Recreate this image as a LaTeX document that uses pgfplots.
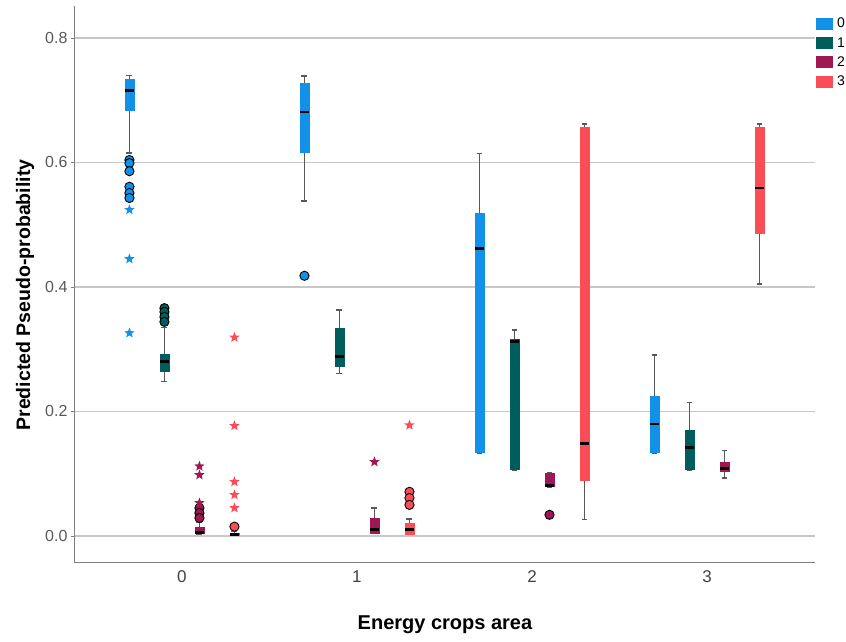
\documentclass[border=0pt]{standalone}
\usepackage{fontspec}
\setmainfont{Liberation Sans}
\usepackage{pgfplots}
\pgfplotsset{compat=1.18}
\usepgfplotslibrary{statistics}

\definecolor{c0}{HTML}{1192E8}
\definecolor{c1}{HTML}{005D5D}
\definecolor{c2}{HTML}{9F1853}
\definecolor{c3}{HTML}{FA4D56}

% filled five-point star for extreme values
\pgfdeclareplotmark{fstar}{%
  \pgfpathmoveto{\pgfqpoint{0pt}{\pgfplotmarksize}}%
  \pgfpathlineto{\pgfqpoint{-0.247\pgfplotmarksize}{0.340\pgfplotmarksize}}%
  \pgfpathlineto{\pgfqpoint{-0.951\pgfplotmarksize}{0.309\pgfplotmarksize}}%
  \pgfpathlineto{\pgfqpoint{-0.399\pgfplotmarksize}{-0.130\pgfplotmarksize}}%
  \pgfpathlineto{\pgfqpoint{-0.588\pgfplotmarksize}{-0.809\pgfplotmarksize}}%
  \pgfpathlineto{\pgfqpoint{0pt}{-0.42\pgfplotmarksize}}%
  \pgfpathlineto{\pgfqpoint{0.588\pgfplotmarksize}{-0.809\pgfplotmarksize}}%
  \pgfpathlineto{\pgfqpoint{0.399\pgfplotmarksize}{-0.130\pgfplotmarksize}}%
  \pgfpathlineto{\pgfqpoint{0.951\pgfplotmarksize}{0.309\pgfplotmarksize}}%
  \pgfpathlineto{\pgfqpoint{0.247\pgfplotmarksize}{0.340\pgfplotmarksize}}%
  \pgfpathclose
  \pgfusepathqfill
}

\begin{document}
\begin{tikzpicture}
\begin{axis}[
  scale only axis,
  width=740pt, height=557pt,
  xmin=-0.611, xmax=3.617,
  ymin=-0.0434, ymax=0.8514,
  axis x line*=bottom, axis y line*=left,
  axis line style={draw=black!50, line width=1pt},
  xtick={0,1,2,3}, xticklabels={0,1,2,3},
  ytick={0,0.2,0.4,0.6,0.8},
  ymajorgrids,
  grid style={draw=black!22, line width=1.3pt},
  x tick style={draw=none},
  y tick style={draw=black!50, line width=0.8pt},
  tick align=outside, major tick length=4pt,
  xticklabel style={font=\fontsize{17}{20}\selectfont, text=black!75},
  yticklabel style={font=\fontsize{16}{19}\selectfont, text=black!65,
    /pgf/number format/assume math mode=true,
    /pgf/number format/fixed, /pgf/number format/fixed zerofill,
    /pgf/number format/precision=1},
  xlabel={Energy crops area},
  ylabel={Predicted Pseudo-probability},
  xlabel style={font=\bfseries\fontsize{20}{24}\selectfont,
    at={(axis description cs:0.5,-0.111)}, anchor=center},
  ylabel style={font=\bfseries\fontsize{19.5}{23}\selectfont,
    at={(axis description cs:-0.0676,0.481)}, anchor=center},
  boxplot/draw direction=y,
  boxplot/box extend=0.05,
  boxplot/whisker extend=0.034,
  boxplot/every whisker/.style={draw=black!65, line width=1.4pt, fill=none},
  boxplot/every median/.style={draw=black, line width=2.8pt},
  legend style={at={(rel axis cs:1,1)}, anchor=north west, xshift=1pt, yshift=-11pt,
    draw=none, fill=none, inner sep=0pt, row sep=6pt,
    font=\fontsize{14}{16}\selectfont, nodes={inner sep=1pt},
    /tikz/every even column/.append style={column sep=2pt}},
  legend cell align=left,
  legend image code/.code={\path[draw=none, #1] (0pt,-6pt) rectangle (17pt,6pt);},
]
\coordinate (sw) at (rel axis cs:0,0);

\addlegendimage{fill=c0}\addlegendentry{\hspace{3pt}0}
\addlegendimage{fill=c1}\addlegendentry{\hspace{3pt}1}
\addlegendimage{fill=c2}\addlegendentry{\hspace{3pt}2}
\addlegendimage{fill=c3}\addlegendentry{\hspace{3pt}3}

% category 0
\addplot[forget plot, fill=c0, draw=c0, boxplot prepared={draw position=-0.3,
  lower whisker=0.615, lower quartile=0.684, median=0.716, upper quartile=0.733, upper whisker=0.740}] coordinates {};
\addplot[forget plot, fill=c1, draw=c1, boxplot prepared={draw position=-0.1,
  lower whisker=0.248, lower quartile=0.265, median=0.280, upper quartile=0.292, upper whisker=0.335}] coordinates {};
\addplot[forget plot, fill=c2, draw=c2, boxplot prepared={draw position=0.1,
  lower whisker=0.003, lower quartile=0.005, median=0.006, upper quartile=0.014, upper whisker=0.022}] coordinates {};
\addplot[forget plot, fill=c3, draw=c3, boxplot prepared={draw position=0.3,
  lower whisker=0.001, lower quartile=0.001, median=0.002, upper quartile=0.004, upper whisker=0.007}] coordinates {};

% category 1
\addplot[forget plot, fill=c0, draw=c0, boxplot prepared={draw position=0.7,
  lower whisker=0.538, lower quartile=0.616, median=0.681, upper quartile=0.727, upper whisker=0.739}] coordinates {};
\addplot[forget plot, fill=c1, draw=c1, boxplot prepared={draw position=0.9,
  lower whisker=0.261, lower quartile=0.272, median=0.288, upper quartile=0.333, upper whisker=0.363}] coordinates {};
\addplot[forget plot, fill=c2, draw=c2, boxplot prepared={draw position=1.1,
  lower whisker=0.004, lower quartile=0.005, median=0.011, upper quartile=0.029, upper whisker=0.045}] coordinates {};
\addplot[forget plot, fill=c3, draw=c3, boxplot prepared={draw position=1.3,
  lower whisker=0.002, lower quartile=0.003, median=0.010, upper quartile=0.021, upper whisker=0.027}] coordinates {};

% category 2
\addplot[forget plot, fill=c0, draw=c0, boxplot prepared={draw position=1.7,
  lower whisker=0.133, lower quartile=0.134, median=0.462, upper quartile=0.519, upper whisker=0.614}] coordinates {};
\addplot[forget plot, fill=c1, draw=c1, boxplot prepared={draw position=1.9,
  lower whisker=0.106, lower quartile=0.107, median=0.313, upper quartile=0.316, upper whisker=0.331}] coordinates {};
\addplot[forget plot, fill=c2, draw=c2, boxplot prepared={draw position=2.1,
  lower whisker=0.079, lower quartile=0.080, median=0.081, upper quartile=0.101, upper whisker=0.102}] coordinates {};
\addplot[forget plot, fill=c3, draw=c3, boxplot prepared={draw position=2.3,
  lower whisker=0.026, lower quartile=0.090, median=0.148, upper quartile=0.657, upper whisker=0.662}] coordinates {};

% category 3
\addplot[forget plot, fill=c0, draw=c0, boxplot prepared={draw position=2.7,
  lower whisker=0.133, lower quartile=0.134, median=0.180, upper quartile=0.224, upper whisker=0.291}] coordinates {};
\addplot[forget plot, fill=c1, draw=c1, boxplot prepared={draw position=2.9,
  lower whisker=0.106, lower quartile=0.107, median=0.142, upper quartile=0.170, upper whisker=0.214}] coordinates {};
\addplot[forget plot, fill=c2, draw=c2, boxplot prepared={draw position=3.1,
  lower whisker=0.093, lower quartile=0.104, median=0.109, upper quartile=0.119, upper whisker=0.137}] coordinates {};
\addplot[forget plot, fill=c3, draw=c3, boxplot prepared={draw position=3.3,
  lower whisker=0.405, lower quartile=0.487, median=0.559, upper quartile=0.657, upper whisker=0.662}] coordinates {};

% outliers (circles) and extreme values (stars)
\addplot[forget plot, only marks, mark=*, mark size=4.6pt,
  mark options={fill=c0, draw=black, line width=0.9pt}] coordinates {
  (-0.3,0.604) (-0.3,0.599) (-0.3,0.586) (-0.3,0.561) (-0.3,0.551) (-0.3,0.543) (0.7,0.418)};
\addplot[forget plot, only marks, mark=fstar, mark size=5.5pt, c0] coordinates {
  (-0.3,0.524) (-0.3,0.445) (-0.3,0.326)};
\addplot[forget plot, only marks, mark=*, mark size=4.6pt,
  mark options={fill=c1, draw=black, line width=0.9pt}] coordinates {
  (-0.1,0.366) (-0.1,0.360) (-0.1,0.352) (-0.1,0.344)};
\addplot[forget plot, only marks, mark=*, mark size=4.6pt,
  mark options={fill=c2, draw=black, line width=0.9pt}] coordinates {
  (0.1,0.045) (0.1,0.037) (0.1,0.029) (2.1,0.034)};
\addplot[forget plot, only marks, mark=fstar, mark size=5.5pt, c2] coordinates {
  (0.1,0.112) (0.1,0.098) (0.1,0.053) (1.1,0.119)};
\addplot[forget plot, only marks, mark=*, mark size=4.6pt,
  mark options={fill=c3, draw=black, line width=0.9pt}] coordinates {
  (0.3,0.015) (1.3,0.071) (1.3,0.061) (1.3,0.050)};
\addplot[forget plot, only marks, mark=fstar, mark size=5.5pt, c3] coordinates {
  (0.3,0.319) (0.3,0.177) (0.3,0.087) (0.3,0.066) (0.3,0.045) (1.3,0.178)};
\end{axis}
\pgfresetboundingbox
\path[use as bounding box] (sw) ++(-75pt,-79pt) rectangle ++(846pt,642pt);
\end{tikzpicture}
\end{document}
